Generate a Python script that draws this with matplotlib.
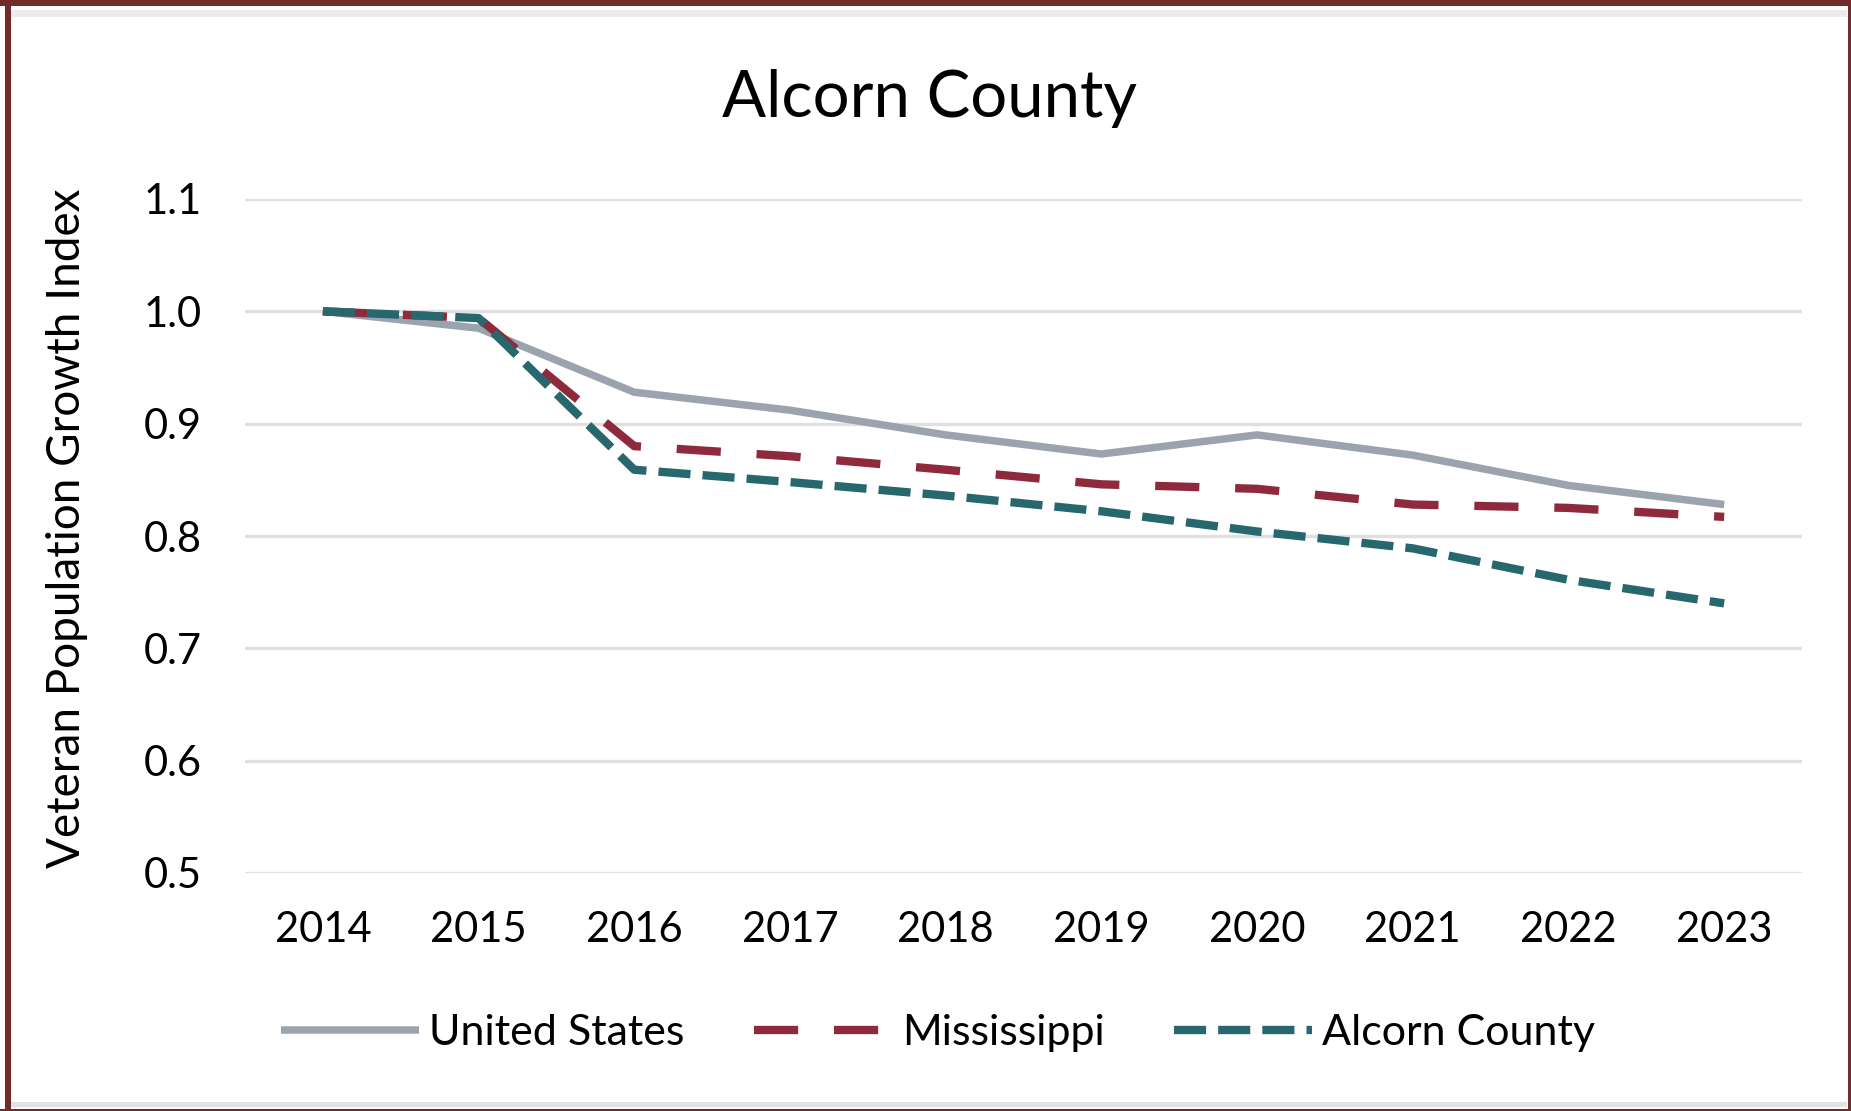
import matplotlib
matplotlib.use('Agg')
import matplotlib.pyplot as plt
from matplotlib.patches import Rectangle

plt.rcParams['font.family'] = ['Lato', 'DejaVu Sans']

# Data
years = ['2014', '2015', '2016', '2017', '2018', '2019', '2020', '2021', '2022', '2023']
united_states = [1.000, 0.985, 0.928, 0.912, 0.890, 0.873, 0.890, 0.872, 0.845, 0.828]
mississippi = [1.000, 0.994, 0.880, 0.871, 0.859, 0.846, 0.842, 0.828, 0.825, 0.817]
alcorn = [1.000, 0.994, 0.859, 0.848, 0.836, 0.822, 0.804, 0.789, 0.761, 0.740]
y_ticks = [0.5, 0.6, 0.7, 0.8, 0.9, 1.0, 1.1]

W, H = 1851, 1111
fig = plt.figure(figsize=(W / 100, H / 100), dpi=100)
ax = fig.add_axes([245 / W, 1 - 873 / H, (1802 - 245) / W, (873 - 199) / H])

x = list(range(len(years)))
ax.plot(x, united_states, color='#9ba4ae', lw=5.4, label='United States',
        solid_joinstyle='round', solid_capstyle='butt', zorder=3)
ax.plot(x, mississippi, color='#8e2a3c', lw=6.0, dashes=(5.3, 4.3),
        label='Mississippi', zorder=4)
ax.plot(x, alcorn, color='#26686e', lw=6.0, dashes=(3.85, 1.45),
        label='Alcorn County', zorder=5)

ax.set_xlim(-0.5, len(years) - 0.5)
ax.set_ylim(0.5, 1.1)
ax.set_xticks(x)
ax.set_xticklabels(years)
ax.set_yticks(y_ticks)
ax.set_yticklabels([f'{v:.1f}' for v in y_ticks])
ax.yaxis.grid(True, color='#e0e0e0', lw=2.4)
ax.set_axisbelow(True)
for s in ax.spines.values():
    s.set_visible(False)
ax.tick_params(axis='both', length=0, labelsize=30, colors='#000000')
ax.tick_params(axis='x', pad=27)
ax.tick_params(axis='y', pad=31)

fig.text(929 / W, 1 - 117 / H, 'Alcorn County', fontsize=47, ha='center',
         va='baseline')
fig.text(67 / W, 1 - 528 / H, 'Veteran Population Growth Index', fontsize=33,
         rotation=90, ha='center', va='center')

handles, labels = ax.get_legend_handles_labels()
fig.legend(handles, labels, loc='center', bbox_to_anchor=(938 / W, 1 - 1033 / H),
           ncol=3, frameon=False, fontsize=31, handlelength=3.2,
           handletextpad=0.25, columnspacing=1.6)

# chart frame
def px_rect(x0, y0, x1, y1, color):
    fig.add_artist(Rectangle((x0 / W, 1 - y1 / H), (x1 - x0) / W, (y1 - y0) / H,
                             transform=fig.transFigure, color=color, lw=0))

px_rect(11, 10, 1847, 17, '#ececec')
px_rect(11, 1102, 1847, 1107, '#e2e2e2')
px_rect(0, 0, W, 6, '#722b2b')
px_rect(5, 0, 11, H, '#722b2b')
px_rect(1848, 0, W, H, '#722b2b')
px_rect(0, 1109, W, H, '#722b2b')

fig.savefig('out.png', dpi=100)
